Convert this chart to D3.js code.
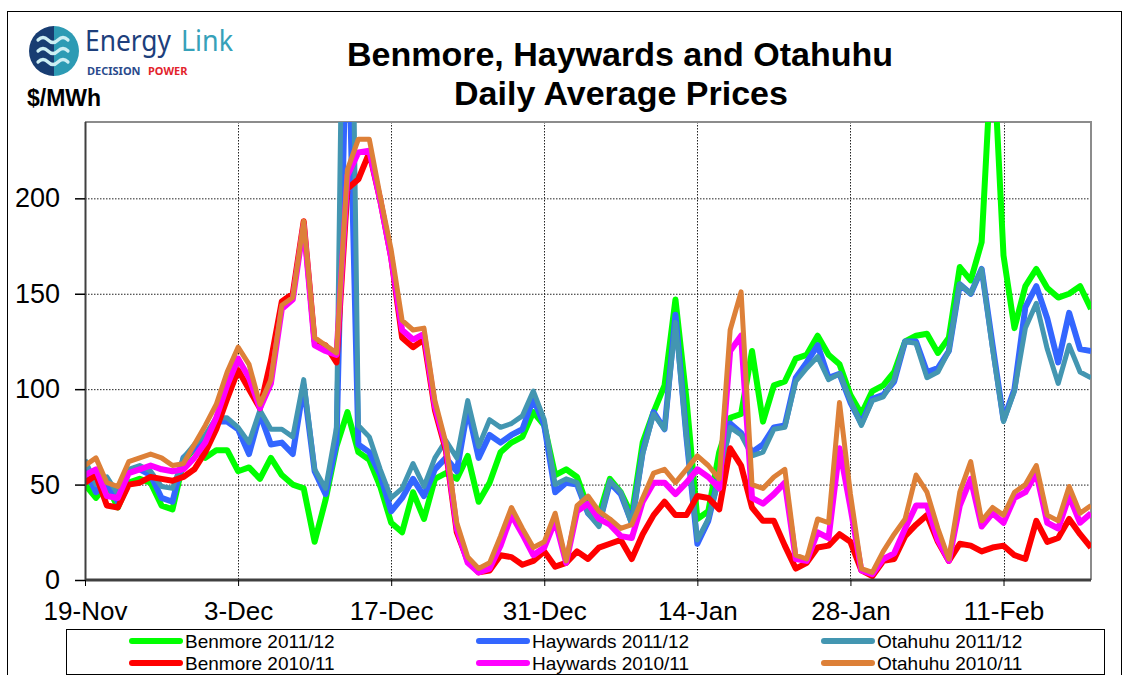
<!DOCTYPE html>
<html>
<head>
<meta charset="utf-8">
<script src="https://cdn.jsdelivr.net/npm/d3@7"></script>
<style>
  body { margin: 0; background: #fff; }
  svg { display: block; font-family: "Liberation Sans", Arial, sans-serif; }
</style>
</head>
<body>
<div id="wrapper"></div>
<script>
// Daily average prices, $/MWh, one value per day from 19-Nov
const startDay = new Date(2011, 10, 19);
const tickLabels = ["19-Nov", "3-Dec", "17-Dec", "31-Dec", "14-Jan", "28-Jan", "11-Feb"];
const yTicks = [0, 50, 100, 150, 200];

const benmore1112 = [50,43,50,38,51,53,51,39,37,62,
  69,64,68,68,57,59,53,64,55,50,
  48,20,42,70,88,67,63,49,30,25,
  46,32,53,56,53,65,41,51,67,72,
  75,88,81,55,58,54,38,34,53,46,
  34,72,88,102,147,95,32,36,67,85,
  87,120,83,102,104,116,118,128,118,113,
  97,87,99,102,109,125,128,129,119,127,
  164,157,177,285,170,132,154,163,153,148,
  150,154,142];
const haywards1112 = [58,46,51,41,57,58,55,43,41,64,
  69,74,83,83,79,66,87,71,72,66,
  102,57,45,72,310,71,67,55,36,43,
  53,44,58,64,57,90,64,76,72,76,
  79,95,81,46,51,50,35,29,51,45,
  30,67,88,79,139,75,19,31,55,82,
  77,67,71,80,81,106,114,123,106,108,
  93,82,95,97,104,125,125,109,111,120,
  155,150,163,123,84,100,143,154,137,114,
  140,121,120];
const otahuhu1112 = [63,50,54,45,58,60,57,49,48,64,
  71,76,85,85,80,72,89,79,79,75,
  105,58,48,80,500,81,75,58,43,48,
  61,49,64,73,64,94,70,84,80,82,
  86,99,84,50,53,51,35,28,52,46,
  29,66,87,79,135,75,21,32,53,80,
  76,65,67,79,80,104,111,117,105,108,
  94,81,94,96,105,125,124,106,109,120,
  155,150,163,121,83,99,132,145,121,103,
  123,109,106];
const benmore1011 = [51,55,39,38,50,51,54,53,52,54,
  58,67,79,95,110,100,90,115,146,150,
  188,125,123,114,205,210,224,199,169,127,
  122,126,89,68,25,10,4,5,13,12,
  8,10,15,7,9,15,11,17,19,21,
  11,24,34,41,34,34,44,43,37,69,
  60,38,31,31,18,6,9,17,18,24,
  20,5,2,10,11,23,29,34,20,10,
  19,18,15,17,18,13,11,31,20,22,
  32,24,17];
const haywards1011 = [55,58,44,43,56,58,60,58,57,58,
  64,72,85,102,116,106,90,103,142,147,
  186,123,120,118,212,224,225,199,169,131,
  126,129,91,70,27,9,4,6,18,34,
  24,13,17,31,9,36,40,32,29,23,
  22,41,51,51,45,51,58,54,48,120,
  128,43,40,45,51,11,10,25,22,69,
  38,5,3,11,14,27,39,39,21,10,
  39,53,28,35,30,43,46,56,30,27,
  44,30,35];
const otahuhu1011 = [60,64,51,49,62,64,66,64,60,61,
  71,81,92,109,122,113,92,105,144,148,
  188,127,123,119,215,231,231,201,173,136,
  131,132,94,72,30,12,6,9,23,38,
  27,17,20,35,10,39,44,36,32,27,
  29,43,56,58,51,58,65,60,53,131,
  151,50,48,54,58,13,11,32,30,93,
  45,6,4,15,24,32,55,46,27,11,
  46,62,31,38,34,46,50,60,34,31,
  49,35,39];

const seriesNames = ["Benmore 2011/12", "Haywards 2011/12", "Otahuhu 2011/12",
                     "Benmore 2010/11", "Haywards 2010/11", "Otahuhu 2010/11"];
const seriesValues = [benmore1112, haywards1112, otahuhu1112, benmore1011, haywards1011, otahuhu1011];
const seriesColors = ["#00ff00", "#3366ff", "#4396b1", "#ff0000", "#ff00ff", "#dd8038"];
const seriesWidths = [6, 6, 5, 6, 6, 5];

const dimensions = {
  width: 1134,
  height: 675,
  margins: { top: 122, right: 43, bottom: 95, left: 85 },
};
dimensions.boundedWidth = dimensions.width - dimensions.margins.left - dimensions.margins.right;
dimensions.boundedHeight = dimensions.height - dimensions.margins.top - dimensions.margins.bottom;

const dates = d3.timeDay.range(startDay, d3.timeDay.offset(startDay, benmore1112.length));
const parseTick = d3.timeParse("%d-%b-%Y");
const tickDates = tickLabels.map(t => parseTick(t + (t.endsWith("Nov") || t.endsWith("Dec") ? "-2011" : "-2012")));

const wrapper = d3.select("#wrapper").append("svg")
  .attr("width", dimensions.width)
  .attr("height", dimensions.height);

// outer frame
wrapper.append("rect")
  .attr("x", 7.5).attr("y", 11.5).attr("width", 1114).attr("height", 700)
  .attr("fill", "none").attr("stroke", "#000").attr("stroke-width", 1);

// logo
const logo = wrapper.append("g");
logo.append("path").attr("d", "M54,26 A25,25 0 0 0 54,76 Z").attr("fill", "#183d72");
logo.append("path").attr("d", "M54,26 A25,25 0 0 1 54,76 Z").attr("fill", "#2d9bb4");
[40, 51, 62].forEach(y => {
  logo.append("path")
    .attr("d", `M38,${y} q5,-5 10,0 t10,0 t10,0`)
    .attr("fill", "none").attr("stroke", "#cdeef3").attr("stroke-width", 3.2)
    .attr("stroke-linecap", "round");
});
logo.append("text").attr("x", 85).attr("y", 51)
  .attr("font-family", "'Noto Sans', 'Open Sans', sans-serif").attr("font-size", 29)
  .attr("fill", "#1d3f7c").attr("textLength", 86).attr("lengthAdjust", "spacingAndGlyphs")
  .text("Energy");
logo.append("text").attr("x", 181).attr("y", 51)
  .attr("font-family", "'Noto Sans', 'Open Sans', sans-serif").attr("font-size", 29)
  .attr("fill", "#36a1b9").attr("textLength", 52).attr("lengthAdjust", "spacingAndGlyphs")
  .text("Link");
logo.append("text").attr("x", 87).attr("y", 75)
  .attr("font-family", "'Noto Sans', sans-serif").attr("font-size", 11).attr("font-weight", "bold")
  .attr("fill", "#2a4a8c").text("DECISION");
logo.append("text").attr("x", 148).attr("y", 75)
  .attr("font-family", "'Noto Sans', sans-serif").attr("font-size", 11).attr("font-weight", "bold")
  .attr("fill", "#e3232c").text("POWER");

wrapper.append("text").attr("x", 27).attr("y", 106)
  .attr("font-size", 23).attr("font-weight", "bold").text("$/MWh");

const title = wrapper.append("text").attr("text-anchor", "middle")
  .attr("font-size", 34).attr("font-weight", "bold");
title.append("tspan").attr("x", 620).attr("y", 66).text("Benmore, Haywards and Otahuhu");
title.append("tspan").attr("x", 621).attr("y", 105).text("Daily Average Prices");

const bounds = wrapper.append("g")
  .attr("transform", `translate(${dimensions.margins.left},${dimensions.margins.top})`);

const xScale = d3.scaleTime()
  .domain(d3.extent(dates))
  .range([0, dimensions.boundedWidth]);
const yScale = d3.scaleLinear()
  .domain([0, 240])
  .range([dimensions.boundedHeight, 0]);

// grid
bounds.append("g").selectAll("line").data(yTicks.filter(d => d > 0)).join("line")
  .attr("x1", 0).attr("x2", dimensions.boundedWidth)
  .attr("y1", d => yScale(d) + 0.5).attr("y2", d => yScale(d) + 0.5)
  .attr("stroke", "#222").attr("stroke-dasharray", "1.5,1.5");
bounds.append("g").selectAll("line").data(tickDates.slice(1)).join("line")
  .attr("x1", d => Math.round(xScale(d)) + 0.5).attr("x2", d => Math.round(xScale(d)) + 0.5)
  .attr("y1", 0).attr("y2", dimensions.boundedHeight)
  .attr("stroke", "#222").attr("stroke-dasharray", "1.5,1.5");

// frame top/right
bounds.append("path")
  .attr("d", `M0,0 H${dimensions.boundedWidth} V${dimensions.boundedHeight}`)
  .attr("fill", "none").attr("stroke", "#8c8c8c").attr("stroke-width", 2);

// lines
bounds.append("clipPath").attr("id", "plotClip")
  .append("rect").attr("width", dimensions.boundedWidth).attr("height", dimensions.boundedHeight);

const lineGenerator = d3.line()
  .x((d, i) => xScale(dates[i]))
  .y(d => yScale(d));

bounds.append("g").attr("clip-path", "url(#plotClip)")
  .selectAll("path").data(seriesValues).join("path")
  .attr("d", d => lineGenerator(d))
  .attr("fill", "none")
  .attr("stroke", (d, i) => seriesColors[i])
  .attr("stroke-width", (d, i) => seriesWidths[i])
  .attr("stroke-linejoin", "round");

// axes
const yAxis = bounds.append("g")
  .call(d3.axisLeft(yScale).tickValues(yTicks).tickSize(10).tickPadding(15));
yAxis.select(".domain").attr("stroke", "#404040").attr("stroke-width", 2)
  .attr("d", `M0.5,0V${dimensions.boundedHeight}`);
yAxis.selectAll(".tick line").attr("stroke", "#000").attr("stroke-width", 1.5);
yAxis.selectAll(".tick text").attr("font-size", 27).attr("fill", "#000")
  .attr("font-family", "'Liberation Sans', Arial, sans-serif");

const xAxis = bounds.append("g")
  .attr("transform", `translate(0,${dimensions.boundedHeight})`)
  .call(d3.axisBottom(xScale).tickValues(tickDates)
    .tickFormat((d, i) => tickLabels[i]).tickSize(6).tickPadding(16));
xAxis.select(".domain").attr("stroke", "#404040").attr("stroke-width", 3)
  .attr("d", `M0,0H${dimensions.boundedWidth}`);
xAxis.selectAll(".tick line").attr("stroke", "#000");
xAxis.selectAll(".tick text").attr("font-size", 26).attr("fill", "#000")
  .attr("font-family", "'Liberation Sans', Arial, sans-serif");

// legend
const legend = wrapper.append("g");
legend.append("rect")
  .attr("x", 66.5).attr("y", 629.5).attr("width", 1038).attr("height", 45)
  .attr("fill", "#fff").attr("stroke", "#000").attr("stroke-width", 1);
const legendCols = [132, 479, 824];
const legendRows = [641, 663];
const items = legend.selectAll("g").data(seriesNames).join("g")
  .attr("transform", (d, i) => `translate(${legendCols[i % 3]},${legendRows[Math.floor(i / 3)]})`);
items.append("line")
  .attr("x1", 0).attr("x2", 48)
  .attr("stroke", (d, i) => seriesColors[i]).attr("stroke-width", 6).attr("stroke-linecap", "round");
items.append("text")
  .attr("x", 53).attr("dy", "0.35em")
  .attr("font-size", 19).text(d => d);
</script>
</body>
</html>
